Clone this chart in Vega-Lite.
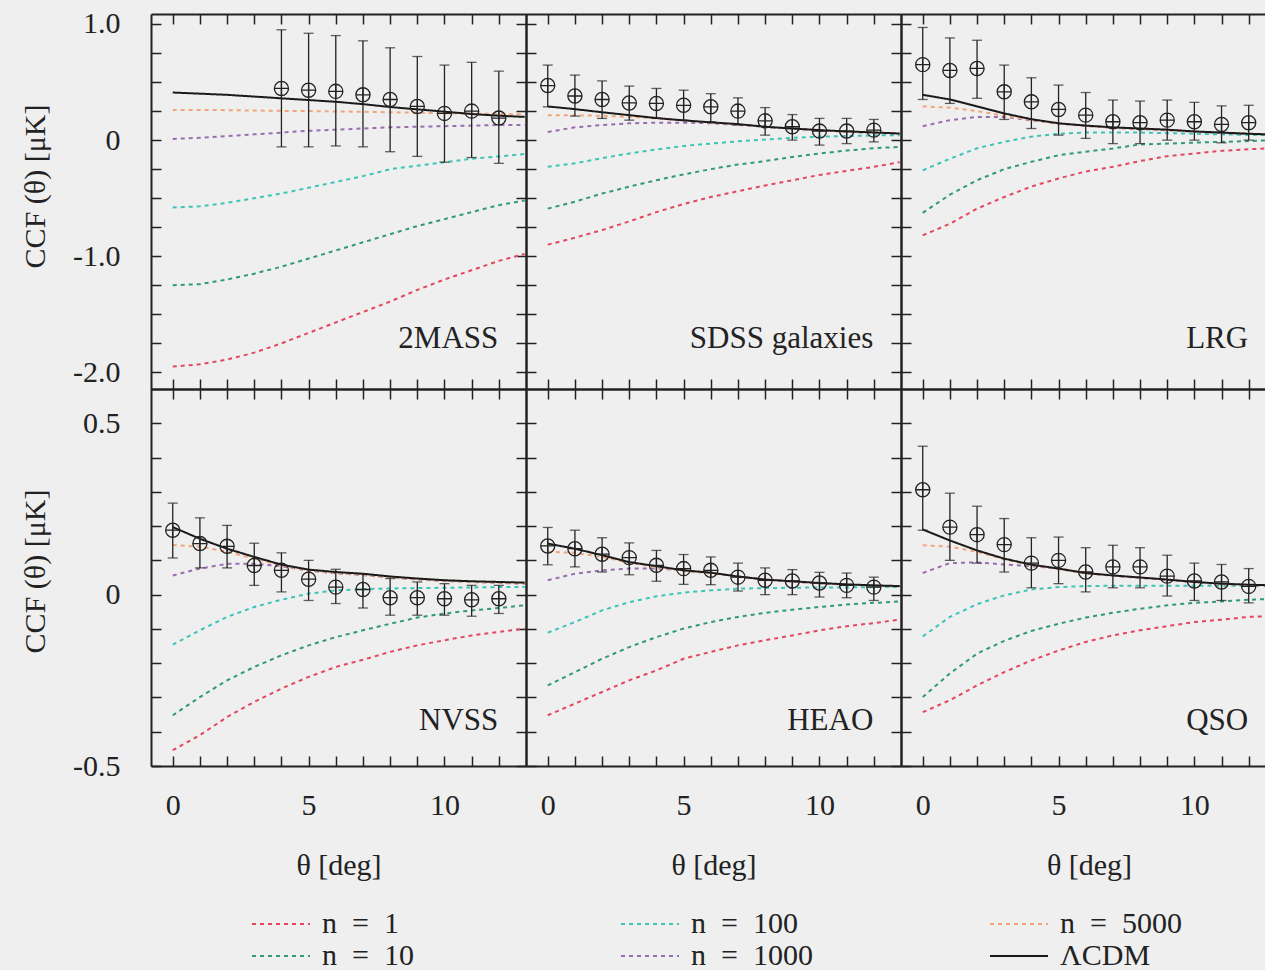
{
"$schema": "https://vega.github.io/schema/vega-lite/v6.json",
"background": "#efefef",
"padding": {"left": 20, "top": 8, "right": 0, "bottom": 0},
"datasets": {
"curves": [
{"p":"2MASS","t":0,"n1":-1.95,"n10":-1.25,"n100":-0.58,"n1000":0.01,"n5000":0.26,"L":0.41},
{"p":"2MASS","t":1,"n1":-1.93,"n10":-1.24,"n100":-0.57,"n1000":0.02,"n5000":0.26,"L":0.40},
{"p":"2MASS","t":2,"n1":-1.89,"n10":-1.20,"n100":-0.54,"n1000":0.035,"n5000":0.258,"L":0.39},
{"p":"2MASS","t":3,"n1":-1.83,"n10":-1.15,"n100":-0.50,"n1000":0.05,"n5000":0.255,"L":0.375},
{"p":"2MASS","t":4,"n1":-1.75,"n10":-1.09,"n100":-0.46,"n1000":0.065,"n5000":0.252,"L":0.36},
{"p":"2MASS","t":5,"n1":-1.66,"n10":-1.02,"n100":-0.41,"n1000":0.08,"n5000":0.25,"L":0.345},
{"p":"2MASS","t":6,"n1":-1.57,"n10":-0.95,"n100":-0.36,"n1000":0.09,"n5000":0.247,"L":0.33},
{"p":"2MASS","t":7,"n1":-1.48,"n10":-0.88,"n100":-0.31,"n1000":0.10,"n5000":0.244,"L":0.31},
{"p":"2MASS","t":8,"n1":-1.39,"n10":-0.81,"n100":-0.25,"n1000":0.11,"n5000":0.24,"L":0.285},
{"p":"2MASS","t":9,"n1":-1.29,"n10":-0.74,"n100":-0.22,"n1000":0.115,"n5000":0.236,"L":0.265},
{"p":"2MASS","t":10,"n1":-1.20,"n10":-0.68,"n100":-0.19,"n1000":0.12,"n5000":0.232,"L":0.245},
{"p":"2MASS","t":11,"n1":-1.12,"n10":-0.62,"n100":-0.16,"n1000":0.125,"n5000":0.228,"L":0.225},
{"p":"2MASS","t":12,"n1":-1.04,"n10":-0.56,"n100":-0.14,"n1000":0.13,"n5000":0.225,"L":0.21},
{"p":"2MASS","t":12.95,"n1":-0.98,"n10":-0.52,"n100":-0.12,"n1000":0.13,"n5000":0.222,"L":0.20},
{"p":"SDSS","t":0,"n1":-0.90,"n10":-0.59,"n100":-0.23,"n1000":0.07,"n5000":0.215,"L":0.29},
{"p":"SDSS","t":1,"n1":-0.84,"n10":-0.53,"n100":-0.20,"n1000":0.11,"n5000":0.213,"L":0.267},
{"p":"SDSS","t":2,"n1":-0.775,"n10":-0.46,"n100":-0.155,"n1000":0.13,"n5000":0.21,"L":0.24},
{"p":"SDSS","t":3,"n1":-0.70,"n10":-0.40,"n100":-0.115,"n1000":0.145,"n5000":0.20,"L":0.215},
{"p":"SDSS","t":4,"n1":-0.62,"n10":-0.345,"n100":-0.08,"n1000":0.15,"n5000":0.188,"L":0.19},
{"p":"SDSS","t":5,"n1":-0.55,"n10":-0.295,"n100":-0.05,"n1000":0.15,"n5000":0.168,"L":0.17},
{"p":"SDSS","t":6,"n1":-0.49,"n10":-0.25,"n100":-0.03,"n1000":0.145,"n5000":0.151,"L":0.153},
{"p":"SDSS","t":7,"n1":-0.44,"n10":-0.21,"n100":-0.01,"n1000":0.132,"n5000":0.134,"L":0.138},
{"p":"SDSS","t":8,"n1":-0.39,"n10":-0.18,"n100":0.005,"n1000":0.115,"n5000":0.114,"L":0.115},
{"p":"SDSS","t":9,"n1":-0.345,"n10":-0.145,"n100":0.02,"n1000":0.10,"n5000":0.099,"L":0.10},
{"p":"SDSS","t":10,"n1":-0.30,"n10":-0.115,"n100":0.03,"n1000":0.085,"n5000":0.084,"L":0.086},
{"p":"SDSS","t":11,"n1":-0.265,"n10":-0.09,"n100":0.035,"n1000":0.072,"n5000":0.073,"L":0.075},
{"p":"SDSS","t":12,"n1":-0.23,"n10":-0.07,"n100":0.04,"n1000":0.062,"n5000":0.064,"L":0.066},
{"p":"SDSS","t":12.95,"n1":-0.19,"n10":-0.058,"n100":0.043,"n1000":0.055,"n5000":0.055,"L":0.057},
{"p":"LRG","t":0,"n1":-0.82,"n10":-0.626,"n100":-0.26,"n1000":0.12,"n5000":0.29,"L":0.39},
{"p":"LRG","t":1,"n1":-0.72,"n10":-0.47,"n100":-0.16,"n1000":0.172,"n5000":0.28,"L":0.35},
{"p":"LRG","t":2,"n1":-0.59,"n10":-0.345,"n100":-0.07,"n1000":0.20,"n5000":0.25,"L":0.29},
{"p":"LRG","t":3,"n1":-0.49,"n10":-0.25,"n100":-0.015,"n1000":0.20,"n5000":0.21,"L":0.23},
{"p":"LRG","t":4,"n1":-0.40,"n10":-0.187,"n100":0.03,"n1000":0.17,"n5000":0.172,"L":0.18},
{"p":"LRG","t":5,"n1":-0.33,"n10":-0.13,"n100":0.055,"n1000":0.143,"n5000":0.142,"L":0.145},
{"p":"LRG","t":6,"n1":-0.27,"n10":-0.10,"n100":0.065,"n1000":0.123,"n5000":0.122,"L":0.125},
{"p":"LRG","t":7,"n1":-0.23,"n10":-0.072,"n100":0.065,"n1000":0.105,"n5000":0.107,"L":0.11},
{"p":"LRG","t":8,"n1":-0.18,"n10":-0.037,"n100":0.065,"n1000":0.095,"n5000":0.097,"L":0.10},
{"p":"LRG","t":9,"n1":-0.138,"n10":-0.03,"n100":0.06,"n1000":0.085,"n5000":0.087,"L":0.09},
{"p":"LRG","t":10,"n1":-0.115,"n10":-0.022,"n100":0.055,"n1000":0.072,"n5000":0.073,"L":0.075},
{"p":"LRG","t":11,"n1":-0.092,"n10":-0.015,"n100":0.05,"n1000":0.062,"n5000":0.063,"L":0.065},
{"p":"LRG","t":12,"n1":-0.078,"n10":-0.008,"n100":0.045,"n1000":0.053,"n5000":0.053,"L":0.055},
{"p":"LRG","t":12.95,"n1":-0.07,"n10":0.0,"n100":0.042,"n1000":0.046,"n5000":0.047,"L":0.048},
{"p":"NVSS","t":0,"n1":-0.454,"n10":-0.352,"n100":-0.146,"n1000":0.056,"n5000":0.145,"L":0.197},
{"p":"NVSS","t":1,"n1":-0.41,"n10":-0.299,"n100":-0.104,"n1000":0.076,"n5000":0.14,"L":0.163},
{"p":"NVSS","t":2,"n1":-0.357,"n10":-0.25,"n100":-0.065,"n1000":0.09,"n5000":0.125,"L":0.134},
{"p":"NVSS","t":3,"n1":-0.313,"n10":-0.211,"n100":-0.036,"n1000":0.09,"n5000":0.105,"L":0.11},
{"p":"NVSS","t":4,"n1":-0.274,"n10":-0.177,"n100":-0.015,"n1000":0.083,"n5000":0.085,"L":0.0875},
{"p":"NVSS","t":5,"n1":-0.24,"n10":-0.148,"n100":0.003,"n1000":0.07,"n5000":0.07,"L":0.073},
{"p":"NVSS","t":6,"n1":-0.211,"n10":-0.124,"n100":0.0125,"n1000":0.062,"n5000":0.063,"L":0.066},
{"p":"NVSS","t":7,"n1":-0.19,"n10":-0.104,"n100":0.016,"n1000":0.057,"n5000":0.058,"L":0.061},
{"p":"NVSS","t":8,"n1":-0.167,"n10":-0.085,"n100":0.018,"n1000":0.05,"n5000":0.05,"L":0.053},
{"p":"NVSS","t":9,"n1":-0.148,"n10":-0.067,"n100":0.019,"n1000":0.044,"n5000":0.045,"L":0.047},
{"p":"NVSS","t":10,"n1":-0.133,"n10":-0.055,"n100":0.02,"n1000":0.04,"n5000":0.04,"L":0.042},
{"p":"NVSS","t":11,"n1":-0.119,"n10":-0.046,"n100":0.021,"n1000":0.037,"n5000":0.037,"L":0.039},
{"p":"NVSS","t":12,"n1":-0.109,"n10":-0.039,"n100":0.022,"n1000":0.034,"n5000":0.035,"L":0.037},
{"p":"NVSS","t":12.95,"n1":-0.099,"n10":-0.031,"n100":0.022,"n1000":0.032,"n5000":0.033,"L":0.035},
{"p":"HEAO","t":0,"n1":-0.352,"n10":-0.265,"n100":-0.111,"n1000":0.042,"n5000":0.125,"L":0.149},
{"p":"HEAO","t":1,"n1":-0.318,"n10":-0.226,"n100":-0.08,"n1000":0.061,"n5000":0.122,"L":0.134},
{"p":"HEAO","t":2,"n1":-0.284,"n10":-0.187,"n100":-0.046,"n1000":0.071,"n5000":0.11,"L":0.115},
{"p":"HEAO","t":3,"n1":-0.25,"n10":-0.153,"n100":-0.022,"n1000":0.076,"n5000":0.093,"L":0.095},
{"p":"HEAO","t":4,"n1":-0.221,"n10":-0.124,"n100":-0.005,"n1000":0.076,"n5000":0.08,"L":0.083},
{"p":"HEAO","t":5,"n1":-0.187,"n10":-0.099,"n100":0.006,"n1000":0.071,"n5000":0.069,"L":0.071},
{"p":"HEAO","t":6,"n1":-0.167,"n10":-0.08,"n100":0.0125,"n1000":0.063,"n5000":0.062,"L":0.064},
{"p":"HEAO","t":7,"n1":-0.148,"n10":-0.065,"n100":0.0175,"n1000":0.053,"n5000":0.052,"L":0.053},
{"p":"HEAO","t":8,"n1":-0.133,"n10":-0.053,"n100":0.019,"n1000":0.044,"n5000":0.043,"L":0.044},
{"p":"HEAO","t":9,"n1":-0.119,"n10":-0.044,"n100":0.02,"n1000":0.038,"n5000":0.038,"L":0.039},
{"p":"HEAO","t":10,"n1":-0.104,"n10":-0.036,"n100":0.021,"n1000":0.033,"n5000":0.033,"L":0.034},
{"p":"HEAO","t":11,"n1":-0.092,"n10":-0.029,"n100":0.021,"n1000":0.029,"n5000":0.029,"L":0.03},
{"p":"HEAO","t":12,"n1":-0.083,"n10":-0.024,"n100":0.022,"n1000":0.026,"n5000":0.026,"L":0.027},
{"p":"HEAO","t":12.95,"n1":-0.073,"n10":-0.02,"n100":0.022,"n1000":0.024,"n5000":0.024,"L":0.025},
{"p":"QSO","t":0,"n1":-0.343,"n10":-0.299,"n100":-0.122,"n1000":0.063,"n5000":0.144,"L":0.19},
{"p":"QSO","t":1,"n1":-0.308,"n10":-0.23,"n100":-0.065,"n1000":0.092,"n5000":0.14,"L":0.158},
{"p":"QSO","t":2,"n1":-0.265,"n10":-0.172,"n100":-0.028,"n1000":0.094,"n5000":0.125,"L":0.129},
{"p":"QSO","t":3,"n1":-0.226,"n10":-0.135,"n100":-0.002,"n1000":0.088,"n5000":0.103,"L":0.105},
{"p":"QSO","t":4,"n1":-0.192,"n10":-0.106,"n100":0.015,"n1000":0.083,"n5000":0.086,"L":0.0875},
{"p":"QSO","t":5,"n1":-0.163,"n10":-0.085,"n100":0.022,"n1000":0.076,"n5000":0.074,"L":0.076},
{"p":"QSO","t":6,"n1":-0.138,"n10":-0.067,"n100":0.025,"n1000":0.063,"n5000":0.062,"L":0.063},
{"p":"QSO","t":7,"n1":-0.119,"n10":-0.053,"n100":0.026,"n1000":0.055,"n5000":0.055,"L":0.056},
{"p":"QSO","t":8,"n1":-0.104,"n10":-0.041,"n100":0.026,"n1000":0.049,"n5000":0.049,"L":0.05},
{"p":"QSO","t":9,"n1":-0.092,"n10":-0.031,"n100":0.026,"n1000":0.043,"n5000":0.043,"L":0.044},
{"p":"QSO","t":10,"n1":-0.08,"n10":-0.024,"n100":0.026,"n1000":0.036,"n5000":0.036,"L":0.037},
{"p":"QSO","t":11,"n1":-0.073,"n10":-0.02,"n100":0.026,"n1000":0.031,"n5000":0.031,"L":0.032},
{"p":"QSO","t":12,"n1":-0.065,"n10":-0.015,"n100":0.026,"n1000":0.028,"n5000":0.028,"L":0.029},
{"p":"QSO","t":12.95,"n1":-0.062,"n10":-0.012,"n100":0.026,"n1000":0.026,"n5000":0.026,"L":0.027}
],
"pts": [
{"p":"2MASS","t":4,"v":0.445,"lo":-0.058,"hi":0.95},
{"p":"2MASS","t":5,"v":0.43,"lo":-0.058,"hi":0.92},
{"p":"2MASS","t":6,"v":0.42,"lo":-0.05,"hi":0.90},
{"p":"2MASS","t":7,"v":0.39,"lo":-0.058,"hi":0.855},
{"p":"2MASS","t":8,"v":0.35,"lo":-0.10,"hi":0.795},
{"p":"2MASS","t":9,"v":0.29,"lo":-0.14,"hi":0.72},
{"p":"2MASS","t":10,"v":0.23,"lo":-0.19,"hi":0.646},
{"p":"2MASS","t":11,"v":0.25,"lo":-0.15,"hi":0.67},
{"p":"2MASS","t":12,"v":0.19,"lo":-0.20,"hi":0.594},
{"p":"SDSS","t":0,"v":0.47,"lo":0.287,"hi":0.646},
{"p":"SDSS","t":1,"v":0.38,"lo":0.207,"hi":0.56},
{"p":"SDSS","t":2,"v":0.35,"lo":0.187,"hi":0.51},
{"p":"SDSS","t":3,"v":0.32,"lo":0.172,"hi":0.465},
{"p":"SDSS","t":4,"v":0.316,"lo":0.187,"hi":0.445},
{"p":"SDSS","t":5,"v":0.30,"lo":0.172,"hi":0.43},
{"p":"SDSS","t":6,"v":0.287,"lo":0.158,"hi":0.40},
{"p":"SDSS","t":7,"v":0.25,"lo":0.13,"hi":0.364},
{"p":"SDSS","t":8,"v":0.166,"lo":0.043,"hi":0.28},
{"p":"SDSS","t":9,"v":0.115,"lo":0.0,"hi":0.22},
{"p":"SDSS","t":10,"v":0.078,"lo":-0.043,"hi":0.187},
{"p":"SDSS","t":11,"v":0.078,"lo":-0.03,"hi":0.187},
{"p":"SDSS","t":12,"v":0.086,"lo":-0.015,"hi":0.178},
{"p":"LRG","t":0,"v":0.65,"lo":0.35,"hi":0.97},
{"p":"LRG","t":1,"v":0.60,"lo":0.316,"hi":0.88},
{"p":"LRG","t":2,"v":0.617,"lo":0.36,"hi":0.86},
{"p":"LRG","t":3,"v":0.416,"lo":0.178,"hi":0.646},
{"p":"LRG","t":4,"v":0.33,"lo":0.10,"hi":0.537},
{"p":"LRG","t":5,"v":0.264,"lo":0.043,"hi":0.474},
{"p":"LRG","t":6,"v":0.215,"lo":0.015,"hi":0.41},
{"p":"LRG","t":7,"v":0.158,"lo":-0.03,"hi":0.345},
{"p":"LRG","t":8,"v":0.15,"lo":-0.03,"hi":0.336},
{"p":"LRG","t":9,"v":0.172,"lo":0.0,"hi":0.345},
{"p":"LRG","t":10,"v":0.158,"lo":0.0,"hi":0.325},
{"p":"LRG","t":11,"v":0.135,"lo":-0.023,"hi":0.295},
{"p":"LRG","t":12,"v":0.15,"lo":0.0,"hi":0.30},
{"p":"NVSS","t":0,"v":0.188,"lo":0.107,"hi":0.267},
{"p":"NVSS","t":1,"v":0.149,"lo":0.078,"hi":0.224},
{"p":"NVSS","t":2,"v":0.141,"lo":0.078,"hi":0.202},
{"p":"NVSS","t":3,"v":0.085,"lo":0.027,"hi":0.15},
{"p":"NVSS","t":4,"v":0.071,"lo":0.008,"hi":0.122},
{"p":"NVSS","t":5,"v":0.045,"lo":-0.017,"hi":0.10},
{"p":"NVSS","t":6,"v":0.022,"lo":-0.026,"hi":0.074},
{"p":"NVSS","t":7,"v":0.015,"lo":-0.039,"hi":0.061},
{"p":"NVSS","t":8,"v":-0.009,"lo":-0.06,"hi":0.047},
{"p":"NVSS","t":9,"v":-0.009,"lo":-0.06,"hi":0.037},
{"p":"NVSS","t":10,"v":-0.012,"lo":-0.06,"hi":0.032},
{"p":"NVSS","t":11,"v":-0.015,"lo":-0.063,"hi":0.027},
{"p":"NVSS","t":12,"v":-0.012,"lo":-0.055,"hi":0.027},
{"p":"HEAO","t":0,"v":0.142,"lo":0.087,"hi":0.196},
{"p":"HEAO","t":1,"v":0.134,"lo":0.081,"hi":0.188},
{"p":"HEAO","t":2,"v":0.118,"lo":0.066,"hi":0.166},
{"p":"HEAO","t":3,"v":0.108,"lo":0.058,"hi":0.151},
{"p":"HEAO","t":4,"v":0.0855,"lo":0.039,"hi":0.129},
{"p":"HEAO","t":5,"v":0.076,"lo":0.03,"hi":0.117},
{"p":"HEAO","t":6,"v":0.071,"lo":0.029,"hi":0.11},
{"p":"HEAO","t":7,"v":0.051,"lo":0.0105,"hi":0.092},
{"p":"HEAO","t":8,"v":0.042,"lo":0.0,"hi":0.078},
{"p":"HEAO","t":9,"v":0.04,"lo":0.0,"hi":0.073},
{"p":"HEAO","t":10,"v":0.034,"lo":-0.007,"hi":0.065},
{"p":"HEAO","t":11,"v":0.027,"lo":-0.009,"hi":0.063},
{"p":"HEAO","t":12,"v":0.022,"lo":-0.017,"hi":0.051},
{"p":"QSO","t":0,"v":0.306,"lo":0.188,"hi":0.433},
{"p":"QSO","t":1,"v":0.197,"lo":0.10,"hi":0.296},
{"p":"QSO","t":2,"v":0.175,"lo":0.092,"hi":0.258},
{"p":"QSO","t":3,"v":0.146,"lo":0.066,"hi":0.222},
{"p":"QSO","t":4,"v":0.092,"lo":0.02,"hi":0.166},
{"p":"QSO","t":5,"v":0.10,"lo":0.032,"hi":0.168},
{"p":"QSO","t":6,"v":0.066,"lo":0.008,"hi":0.137},
{"p":"QSO","t":7,"v":0.081,"lo":0.02,"hi":0.144},
{"p":"QSO","t":8,"v":0.081,"lo":0.02,"hi":0.137},
{"p":"QSO","t":9,"v":0.054,"lo":-0.004,"hi":0.115},
{"p":"QSO","t":10,"v":0.04,"lo":-0.017,"hi":0.092},
{"p":"QSO","t":11,"v":0.037,"lo":-0.017,"hi":0.088},
{"p":"QSO","t":12,"v":0.024,"lo":-0.024,"hi":0.076}
]
},
"spacing": 0,
"bounds": "flush",
"columns": 3,
"concat": [
{"width": 375, "height": 375, "resolve": {"axis": {"x": "independent", "y": "independent"}},
 "layer": [
  {"data": {"name": "curves"}, "transform": [{"filter": "datum.p == '2MASS'"}, {"fold": ["n1","n10","n100","n1000","n5000","L"], "as": ["s","v"]}],
   "mark": {"type": "line", "strokeWidth": 2, "clip": true},
   "encoding": {
    "x": {"field": "t", "type": "quantitative", "scale": {"domain": [-0.8, 13], "nice": false, "zero": false}, "axis": {"orient": "bottom", "values": [0,1,2,3,4,5,6,7,8,9,10,11,12], "labels": false, "title": null}},
    "y": {"field": "v", "type": "quantitative", "scale": {"domain": [-2.143, 1.086], "nice": false, "zero": false}, "axis": {"orient": "left", "values": [-2,-1.75,-1.5,-1.25,-1,-0.75,-0.5,-0.25,0,0.25,0.5,0.75,1], "labelExpr": "datum.value == 1 ? '1.0' : datum.value == 0 ? '0' : datum.value == -1 ? '-1.0' : datum.value == -2 ? '-2.0' : ''", "labelPadding": 41, "title": "CCF (θ) [μK]", "titlePadding": 22, "titleY": 172}},
    "color": {"field": "s", "type": "nominal", "scale": {"domain": ["n1","n10","n100","n1000","n5000","L"], "range": ["#e3475f","#2f9b6e","#3cc4b8","#9a6cb0","#f2a57a","#1a1a1a"]}, "legend": {"title": null, "labelExpr": "datum.value == 'L' ? 'ΛCDM' : 'n\u2002=\u2002' + substring(datum.value, 1)"}},
    "strokeDash": {"field": "s", "type": "nominal", "scale": {"domain": ["n1","n10","n100","n1000","n5000","L"], "range": [[4,4],[4,4],[4,4],[4,4],[4,4],[1,0]]}, "legend": {"title": null, "labelExpr": "datum.value == 'L' ? 'ΛCDM' : 'n\u2002=\u2002' + substring(datum.value, 1)"}}
   }},
  {"data": {"name": "pts"}, "transform": [{"filter": "datum.p == '2MASS'"}],
   "mark": {"type": "rule", "color": "#222", "strokeWidth": 1.3},
   "encoding": {
    "x": {"field": "t", "type": "quantitative", "scale": {"domain": [-0.8, 13], "nice": false, "zero": false}, "axis": {"orient": "top", "values": [0,1,2,3,4,5,6,7,8,9,10,11,12], "labels": false, "title": null}},
    "y": {"field": "lo", "type": "quantitative", "scale": {"domain": [-2.143, 1.086], "nice": false, "zero": false}, "axis": {"orient": "right", "values": [-2,-1.75,-1.5,-1.25,-1,-0.75,-0.5,-0.25,0,0.25,0.5,0.75,1], "labels": false, "title": null}},
    "y2": {"field": "hi"}
   }},
  {"data": {"name": "pts"}, "transform": [{"filter": "datum.p == '2MASS'"}],
   "mark": {"type": "tick", "orient": "horizontal", "size": 10, "thickness": 1.3, "color": "#222"},
   "encoding": {"x": {"field": "t", "type": "quantitative", "scale": {"domain": [-0.8, 13], "nice": false, "zero": false}, "axis": null}, "y": {"field": "lo", "type": "quantitative", "scale": {"domain": [-2.143, 1.086], "nice": false, "zero": false}, "axis": null}}},
  {"data": {"name": "pts"}, "transform": [{"filter": "datum.p == '2MASS'"}],
   "mark": {"type": "tick", "orient": "horizontal", "size": 10, "thickness": 1.3, "color": "#222"},
   "encoding": {"x": {"field": "t", "type": "quantitative", "scale": {"domain": [-0.8, 13], "nice": false, "zero": false}, "axis": null}, "y": {"field": "hi", "type": "quantitative", "scale": {"domain": [-2.143, 1.086], "nice": false, "zero": false}, "axis": null}}},
  {"data": {"name": "pts"}, "transform": [{"filter": "datum.p == '2MASS'"}],
   "mark": {"type": "point", "shape": "M-1,0A1,1,0,1,1,1,0A1,1,0,1,1,-1,0M-1,0L1,0M0,-1L0,1", "size": 200, "filled": false, "stroke": "#222", "strokeWidth": 1.3, "opacity": 1},
   "encoding": {"x": {"field": "t", "type": "quantitative", "scale": {"domain": [-0.8, 13], "nice": false, "zero": false}, "axis": null}, "y": {"field": "v", "type": "quantitative", "scale": {"domain": [-2.143, 1.086], "nice": false, "zero": false}, "axis": null}}},
  {"data": {"values": [{}]},
   "mark": {"type": "text", "text": "2MASS", "align": "right", "baseline": "alphabetic", "fontSize": 31, "font": "Liberation Serif", "color": "#222"},
   "encoding": {"x": {"datum": 11.98, "type": "quantitative", "scale": {"domain": [-0.8, 13], "nice": false, "zero": false}, "axis": null}, "y": {"datum": -1.79, "type": "quantitative", "scale": {"domain": [-2.143, 1.086], "nice": false, "zero": false}, "axis": null}}}
 ]},
{"width": 375, "height": 375, "resolve": {"axis": {"x": "independent", "y": "independent"}},
 "layer": [
  {"data": {"name": "curves"}, "transform": [{"filter": "datum.p == 'SDSS'"}, {"fold": ["n1","n10","n100","n1000","n5000","L"], "as": ["s","v"]}],
   "mark": {"type": "line", "strokeWidth": 2, "clip": true},
   "encoding": {
    "x": {"field": "t", "type": "quantitative", "scale": {"domain": [-0.8, 13], "nice": false, "zero": false}, "axis": {"orient": "bottom", "values": [0,1,2,3,4,5,6,7,8,9,10,11,12], "labels": false, "title": null}},
    "y": {"field": "v", "type": "quantitative", "scale": {"domain": [-2.143, 1.086], "nice": false, "zero": false}, "axis": {"orient": "left", "values": [-2,-1.75,-1.5,-1.25,-1,-0.75,-0.5,-0.25,0,0.25,0.5,0.75,1], "labels": false, "title": null}},
    "color": {"field": "s", "type": "nominal", "scale": {"domain": ["n1","n10","n100","n1000","n5000","L"], "range": ["#e3475f","#2f9b6e","#3cc4b8","#9a6cb0","#f2a57a","#1a1a1a"]}, "legend": {"title": null, "labelExpr": "datum.value == 'L' ? 'ΛCDM' : 'n\u2002=\u2002' + substring(datum.value, 1)"}},
    "strokeDash": {"field": "s", "type": "nominal", "scale": {"domain": ["n1","n10","n100","n1000","n5000","L"], "range": [[4,4],[4,4],[4,4],[4,4],[4,4],[1,0]]}, "legend": {"title": null, "labelExpr": "datum.value == 'L' ? 'ΛCDM' : 'n\u2002=\u2002' + substring(datum.value, 1)"}}
   }},
  {"data": {"name": "pts"}, "transform": [{"filter": "datum.p == 'SDSS'"}],
   "mark": {"type": "rule", "color": "#222", "strokeWidth": 1.3},
   "encoding": {
    "x": {"field": "t", "type": "quantitative", "scale": {"domain": [-0.8, 13], "nice": false, "zero": false}, "axis": {"orient": "top", "values": [0,1,2,3,4,5,6,7,8,9,10,11,12], "labels": false, "title": null}},
    "y": {"field": "lo", "type": "quantitative", "scale": {"domain": [-2.143, 1.086], "nice": false, "zero": false}, "axis": {"orient": "right", "values": [-2,-1.75,-1.5,-1.25,-1,-0.75,-0.5,-0.25,0,0.25,0.5,0.75,1], "labels": false, "title": null}},
    "y2": {"field": "hi"}
   }},
  {"data": {"name": "pts"}, "transform": [{"filter": "datum.p == 'SDSS'"}],
   "mark": {"type": "tick", "orient": "horizontal", "size": 10, "thickness": 1.3, "color": "#222"},
   "encoding": {"x": {"field": "t", "type": "quantitative", "scale": {"domain": [-0.8, 13], "nice": false, "zero": false}, "axis": null}, "y": {"field": "lo", "type": "quantitative", "scale": {"domain": [-2.143, 1.086], "nice": false, "zero": false}, "axis": null}}},
  {"data": {"name": "pts"}, "transform": [{"filter": "datum.p == 'SDSS'"}],
   "mark": {"type": "tick", "orient": "horizontal", "size": 10, "thickness": 1.3, "color": "#222"},
   "encoding": {"x": {"field": "t", "type": "quantitative", "scale": {"domain": [-0.8, 13], "nice": false, "zero": false}, "axis": null}, "y": {"field": "hi", "type": "quantitative", "scale": {"domain": [-2.143, 1.086], "nice": false, "zero": false}, "axis": null}}},
  {"data": {"name": "pts"}, "transform": [{"filter": "datum.p == 'SDSS'"}],
   "mark": {"type": "point", "shape": "M-1,0A1,1,0,1,1,1,0A1,1,0,1,1,-1,0M-1,0L1,0M0,-1L0,1", "size": 200, "filled": false, "stroke": "#222", "strokeWidth": 1.3, "opacity": 1},
   "encoding": {"x": {"field": "t", "type": "quantitative", "scale": {"domain": [-0.8, 13], "nice": false, "zero": false}, "axis": null}, "y": {"field": "v", "type": "quantitative", "scale": {"domain": [-2.143, 1.086], "nice": false, "zero": false}, "axis": null}}},
  {"data": {"values": [{}]},
   "mark": {"type": "text", "text": "SDSS galaxies", "align": "right", "baseline": "alphabetic", "fontSize": 31, "font": "Liberation Serif", "color": "#222"},
   "encoding": {"x": {"datum": 11.98, "type": "quantitative", "scale": {"domain": [-0.8, 13], "nice": false, "zero": false}, "axis": null}, "y": {"datum": -1.79, "type": "quantitative", "scale": {"domain": [-2.143, 1.086], "nice": false, "zero": false}, "axis": null}}}
 ]},
{"width": 364, "height": 375, "resolve": {"axis": {"x": "independent", "y": "independent"}},
 "layer": [
  {"data": {"name": "curves"}, "transform": [{"filter": "datum.p == 'LRG'"}, {"fold": ["n1","n10","n100","n1000","n5000","L"], "as": ["s","v"]}],
   "mark": {"type": "line", "strokeWidth": 2, "clip": true},
   "encoding": {
    "x": {"field": "t", "type": "quantitative", "scale": {"domain": [-0.8, 12.6], "nice": false, "zero": false}, "axis": {"orient": "bottom", "values": [0,1,2,3,4,5,6,7,8,9,10,11,12], "labels": false, "title": null}},
    "y": {"field": "v", "type": "quantitative", "scale": {"domain": [-2.143, 1.086], "nice": false, "zero": false}, "axis": {"orient": "left", "values": [-2,-1.75,-1.5,-1.25,-1,-0.75,-0.5,-0.25,0,0.25,0.5,0.75,1], "labels": false, "title": null}},
    "color": {"field": "s", "type": "nominal", "scale": {"domain": ["n1","n10","n100","n1000","n5000","L"], "range": ["#e3475f","#2f9b6e","#3cc4b8","#9a6cb0","#f2a57a","#1a1a1a"]}, "legend": {"title": null, "labelExpr": "datum.value == 'L' ? 'ΛCDM' : 'n\u2002=\u2002' + substring(datum.value, 1)"}},
    "strokeDash": {"field": "s", "type": "nominal", "scale": {"domain": ["n1","n10","n100","n1000","n5000","L"], "range": [[4,4],[4,4],[4,4],[4,4],[4,4],[1,0]]}, "legend": {"title": null, "labelExpr": "datum.value == 'L' ? 'ΛCDM' : 'n\u2002=\u2002' + substring(datum.value, 1)"}}
   }},
  {"data": {"name": "pts"}, "transform": [{"filter": "datum.p == 'LRG'"}],
   "mark": {"type": "rule", "color": "#222", "strokeWidth": 1.3},
   "encoding": {
    "x": {"field": "t", "type": "quantitative", "scale": {"domain": [-0.8, 12.6], "nice": false, "zero": false}, "axis": {"orient": "top", "values": [0,1,2,3,4,5,6,7,8,9,10,11,12], "labels": false, "title": null}},
    "y": {"field": "lo", "type": "quantitative", "scale": {"domain": [-2.143, 1.086], "nice": false, "zero": false}, "axis": null},
    "y2": {"field": "hi"}
   }},
  {"data": {"name": "pts"}, "transform": [{"filter": "datum.p == 'LRG'"}],
   "mark": {"type": "tick", "orient": "horizontal", "size": 10, "thickness": 1.3, "color": "#222"},
   "encoding": {"x": {"field": "t", "type": "quantitative", "scale": {"domain": [-0.8, 12.6], "nice": false, "zero": false}, "axis": null}, "y": {"field": "lo", "type": "quantitative", "scale": {"domain": [-2.143, 1.086], "nice": false, "zero": false}, "axis": null}}},
  {"data": {"name": "pts"}, "transform": [{"filter": "datum.p == 'LRG'"}],
   "mark": {"type": "tick", "orient": "horizontal", "size": 10, "thickness": 1.3, "color": "#222"},
   "encoding": {"x": {"field": "t", "type": "quantitative", "scale": {"domain": [-0.8, 12.6], "nice": false, "zero": false}, "axis": null}, "y": {"field": "hi", "type": "quantitative", "scale": {"domain": [-2.143, 1.086], "nice": false, "zero": false}, "axis": null}}},
  {"data": {"name": "pts"}, "transform": [{"filter": "datum.p == 'LRG'"}],
   "mark": {"type": "point", "shape": "M-1,0A1,1,0,1,1,1,0A1,1,0,1,1,-1,0M-1,0L1,0M0,-1L0,1", "size": 200, "filled": false, "stroke": "#222", "strokeWidth": 1.3, "opacity": 1},
   "encoding": {"x": {"field": "t", "type": "quantitative", "scale": {"domain": [-0.8, 12.6], "nice": false, "zero": false}, "axis": null}, "y": {"field": "v", "type": "quantitative", "scale": {"domain": [-2.143, 1.086], "nice": false, "zero": false}, "axis": null}}},
  {"data": {"values": [{}]},
   "mark": {"type": "text", "text": "LRG", "align": "right", "baseline": "alphabetic", "fontSize": 31, "font": "Liberation Serif", "color": "#222"},
   "encoding": {"x": {"datum": 11.98, "type": "quantitative", "scale": {"domain": [-0.8, 12.6], "nice": false, "zero": false}, "axis": null}, "y": {"datum": -1.79, "type": "quantitative", "scale": {"domain": [-2.143, 1.086], "nice": false, "zero": false}, "axis": null}}}
 ]},
{"width": 375, "height": 377, "resolve": {"axis": {"x": "independent", "y": "independent"}},
 "layer": [
  {"data": {"name": "curves"}, "transform": [{"filter": "datum.p == 'NVSS'"}, {"fold": ["n1","n10","n100","n1000","n5000","L"], "as": ["s","v"]}],
   "mark": {"type": "line", "strokeWidth": 2, "clip": true},
   "encoding": {
    "x": {"field": "t", "type": "quantitative", "scale": {"domain": [-0.8, 13], "nice": false, "zero": false}, "axis": {"orient": "bottom", "values": [0,1,2,3,4,5,6,7,8,9,10,11,12], "labelExpr": "datum.value % 5 == 0 ? datum.label : ''", "labelPadding": 34, "title": "θ [deg]", "titlePadding": 30}},
    "y": {"field": "v", "type": "quantitative", "scale": {"domain": [-0.5, 0.6], "nice": false, "zero": false}, "axis": {"orient": "left", "values": [-0.5,-0.4,-0.3,-0.2,-0.1,0,0.1,0.2,0.3,0.4,0.5], "labelExpr": "datum.value == 0.5 ? '0.5' : datum.value == 0 ? '0' : datum.value == -0.5 ? '-0.5' : ''", "labelPadding": 41, "title": "CCF (θ) [μK]", "titlePadding": 22, "titleY": 182}},
    "color": {"field": "s", "type": "nominal", "scale": {"domain": ["n1","n10","n100","n1000","n5000","L"], "range": ["#e3475f","#2f9b6e","#3cc4b8","#9a6cb0","#f2a57a","#1a1a1a"]}, "legend": {"title": null, "labelExpr": "datum.value == 'L' ? 'ΛCDM' : 'n\u2002=\u2002' + substring(datum.value, 1)"}},
    "strokeDash": {"field": "s", "type": "nominal", "scale": {"domain": ["n1","n10","n100","n1000","n5000","L"], "range": [[4,4],[4,4],[4,4],[4,4],[4,4],[1,0]]}, "legend": {"title": null, "labelExpr": "datum.value == 'L' ? 'ΛCDM' : 'n\u2002=\u2002' + substring(datum.value, 1)"}}
   }},
  {"data": {"name": "pts"}, "transform": [{"filter": "datum.p == 'NVSS'"}],
   "mark": {"type": "rule", "color": "#222", "strokeWidth": 1.3},
   "encoding": {
    "x": {"field": "t", "type": "quantitative", "scale": {"domain": [-0.8, 13], "nice": false, "zero": false}, "axis": {"orient": "top", "values": [0,1,2,3,4,5,6,7,8,9,10,11,12], "labels": false, "title": null}},
    "y": {"field": "lo", "type": "quantitative", "scale": {"domain": [-0.5, 0.6], "nice": false, "zero": false}, "axis": {"orient": "right", "values": [-0.5,-0.4,-0.3,-0.2,-0.1,0,0.1,0.2,0.3,0.4,0.5], "labels": false, "title": null}},
    "y2": {"field": "hi"}
   }},
  {"data": {"name": "pts"}, "transform": [{"filter": "datum.p == 'NVSS'"}],
   "mark": {"type": "tick", "orient": "horizontal", "size": 10, "thickness": 1.3, "color": "#222"},
   "encoding": {"x": {"field": "t", "type": "quantitative", "scale": {"domain": [-0.8, 13], "nice": false, "zero": false}, "axis": null}, "y": {"field": "lo", "type": "quantitative", "scale": {"domain": [-0.5, 0.6], "nice": false, "zero": false}, "axis": null}}},
  {"data": {"name": "pts"}, "transform": [{"filter": "datum.p == 'NVSS'"}],
   "mark": {"type": "tick", "orient": "horizontal", "size": 10, "thickness": 1.3, "color": "#222"},
   "encoding": {"x": {"field": "t", "type": "quantitative", "scale": {"domain": [-0.8, 13], "nice": false, "zero": false}, "axis": null}, "y": {"field": "hi", "type": "quantitative", "scale": {"domain": [-0.5, 0.6], "nice": false, "zero": false}, "axis": null}}},
  {"data": {"name": "pts"}, "transform": [{"filter": "datum.p == 'NVSS'"}],
   "mark": {"type": "point", "shape": "M-1,0A1,1,0,1,1,1,0A1,1,0,1,1,-1,0M-1,0L1,0M0,-1L0,1", "size": 200, "filled": false, "stroke": "#222", "strokeWidth": 1.3, "opacity": 1},
   "encoding": {"x": {"field": "t", "type": "quantitative", "scale": {"domain": [-0.8, 13], "nice": false, "zero": false}, "axis": null}, "y": {"field": "v", "type": "quantitative", "scale": {"domain": [-0.5, 0.6], "nice": false, "zero": false}, "axis": null}}},
  {"data": {"values": [{}]},
   "mark": {"type": "text", "text": "NVSS", "align": "right", "baseline": "alphabetic", "fontSize": 31, "font": "Liberation Serif", "color": "#222"},
   "encoding": {"x": {"datum": 11.98, "type": "quantitative", "scale": {"domain": [-0.8, 13], "nice": false, "zero": false}, "axis": null}, "y": {"datum": -0.396, "type": "quantitative", "scale": {"domain": [-0.5, 0.6], "nice": false, "zero": false}, "axis": null}}}
 ]},
{"width": 375, "height": 377, "resolve": {"axis": {"x": "independent", "y": "independent"}},
 "layer": [
  {"data": {"name": "curves"}, "transform": [{"filter": "datum.p == 'HEAO'"}, {"fold": ["n1","n10","n100","n1000","n5000","L"], "as": ["s","v"]}],
   "mark": {"type": "line", "strokeWidth": 2, "clip": true},
   "encoding": {
    "x": {"field": "t", "type": "quantitative", "scale": {"domain": [-0.8, 13], "nice": false, "zero": false}, "axis": {"orient": "bottom", "values": [0,1,2,3,4,5,6,7,8,9,10,11,12], "labelExpr": "datum.value % 5 == 0 ? datum.label : ''", "labelPadding": 34, "title": "θ [deg]", "titlePadding": 30}},
    "y": {"field": "v", "type": "quantitative", "scale": {"domain": [-0.5, 0.6], "nice": false, "zero": false}, "axis": {"orient": "left", "values": [-0.5,-0.4,-0.3,-0.2,-0.1,0,0.1,0.2,0.3,0.4,0.5], "labels": false, "title": null}},
    "color": {"field": "s", "type": "nominal", "scale": {"domain": ["n1","n10","n100","n1000","n5000","L"], "range": ["#e3475f","#2f9b6e","#3cc4b8","#9a6cb0","#f2a57a","#1a1a1a"]}, "legend": {"title": null, "labelExpr": "datum.value == 'L' ? 'ΛCDM' : 'n\u2002=\u2002' + substring(datum.value, 1)"}},
    "strokeDash": {"field": "s", "type": "nominal", "scale": {"domain": ["n1","n10","n100","n1000","n5000","L"], "range": [[4,4],[4,4],[4,4],[4,4],[4,4],[1,0]]}, "legend": {"title": null, "labelExpr": "datum.value == 'L' ? 'ΛCDM' : 'n\u2002=\u2002' + substring(datum.value, 1)"}}
   }},
  {"data": {"name": "pts"}, "transform": [{"filter": "datum.p == 'HEAO'"}],
   "mark": {"type": "rule", "color": "#222", "strokeWidth": 1.3},
   "encoding": {
    "x": {"field": "t", "type": "quantitative", "scale": {"domain": [-0.8, 13], "nice": false, "zero": false}, "axis": {"orient": "top", "values": [0,1,2,3,4,5,6,7,8,9,10,11,12], "labels": false, "title": null}},
    "y": {"field": "lo", "type": "quantitative", "scale": {"domain": [-0.5, 0.6], "nice": false, "zero": false}, "axis": {"orient": "right", "values": [-0.5,-0.4,-0.3,-0.2,-0.1,0,0.1,0.2,0.3,0.4,0.5], "labels": false, "title": null}},
    "y2": {"field": "hi"}
   }},
  {"data": {"name": "pts"}, "transform": [{"filter": "datum.p == 'HEAO'"}],
   "mark": {"type": "tick", "orient": "horizontal", "size": 10, "thickness": 1.3, "color": "#222"},
   "encoding": {"x": {"field": "t", "type": "quantitative", "scale": {"domain": [-0.8, 13], "nice": false, "zero": false}, "axis": null}, "y": {"field": "lo", "type": "quantitative", "scale": {"domain": [-0.5, 0.6], "nice": false, "zero": false}, "axis": null}}},
  {"data": {"name": "pts"}, "transform": [{"filter": "datum.p == 'HEAO'"}],
   "mark": {"type": "tick", "orient": "horizontal", "size": 10, "thickness": 1.3, "color": "#222"},
   "encoding": {"x": {"field": "t", "type": "quantitative", "scale": {"domain": [-0.8, 13], "nice": false, "zero": false}, "axis": null}, "y": {"field": "hi", "type": "quantitative", "scale": {"domain": [-0.5, 0.6], "nice": false, "zero": false}, "axis": null}}},
  {"data": {"name": "pts"}, "transform": [{"filter": "datum.p == 'HEAO'"}],
   "mark": {"type": "point", "shape": "M-1,0A1,1,0,1,1,1,0A1,1,0,1,1,-1,0M-1,0L1,0M0,-1L0,1", "size": 200, "filled": false, "stroke": "#222", "strokeWidth": 1.3, "opacity": 1},
   "encoding": {"x": {"field": "t", "type": "quantitative", "scale": {"domain": [-0.8, 13], "nice": false, "zero": false}, "axis": null}, "y": {"field": "v", "type": "quantitative", "scale": {"domain": [-0.5, 0.6], "nice": false, "zero": false}, "axis": null}}},
  {"data": {"values": [{}]},
   "mark": {"type": "text", "text": "HEAO", "align": "right", "baseline": "alphabetic", "fontSize": 31, "font": "Liberation Serif", "color": "#222"},
   "encoding": {"x": {"datum": 11.98, "type": "quantitative", "scale": {"domain": [-0.8, 13], "nice": false, "zero": false}, "axis": null}, "y": {"datum": -0.396, "type": "quantitative", "scale": {"domain": [-0.5, 0.6], "nice": false, "zero": false}, "axis": null}}}
 ]},
{"width": 364, "height": 377, "resolve": {"axis": {"x": "independent", "y": "independent"}},
 "layer": [
  {"data": {"name": "curves"}, "transform": [{"filter": "datum.p == 'QSO'"}, {"fold": ["n1","n10","n100","n1000","n5000","L"], "as": ["s","v"]}],
   "mark": {"type": "line", "strokeWidth": 2, "clip": true},
   "encoding": {
    "x": {"field": "t", "type": "quantitative", "scale": {"domain": [-0.8, 12.6], "nice": false, "zero": false}, "axis": {"orient": "bottom", "values": [0,1,2,3,4,5,6,7,8,9,10,11,12], "labelExpr": "datum.value % 5 == 0 ? datum.label : ''", "labelPadding": 34, "title": "θ [deg]", "titlePadding": 30, "titleX": 188}},
    "y": {"field": "v", "type": "quantitative", "scale": {"domain": [-0.5, 0.6], "nice": false, "zero": false}, "axis": {"orient": "left", "values": [-0.5,-0.4,-0.3,-0.2,-0.1,0,0.1,0.2,0.3,0.4,0.5], "labels": false, "title": null}},
    "color": {"field": "s", "type": "nominal", "scale": {"domain": ["n1","n10","n100","n1000","n5000","L"], "range": ["#e3475f","#2f9b6e","#3cc4b8","#9a6cb0","#f2a57a","#1a1a1a"]}, "legend": {"title": null, "labelExpr": "datum.value == 'L' ? 'ΛCDM' : 'n\u2002=\u2002' + substring(datum.value, 1)"}},
    "strokeDash": {"field": "s", "type": "nominal", "scale": {"domain": ["n1","n10","n100","n1000","n5000","L"], "range": [[4,4],[4,4],[4,4],[4,4],[4,4],[1,0]]}, "legend": {"title": null, "labelExpr": "datum.value == 'L' ? 'ΛCDM' : 'n\u2002=\u2002' + substring(datum.value, 1)"}}
   }},
  {"data": {"name": "pts"}, "transform": [{"filter": "datum.p == 'QSO'"}],
   "mark": {"type": "rule", "color": "#222", "strokeWidth": 1.3},
   "encoding": {
    "x": {"field": "t", "type": "quantitative", "scale": {"domain": [-0.8, 12.6], "nice": false, "zero": false}, "axis": {"orient": "top", "values": [0,1,2,3,4,5,6,7,8,9,10,11,12], "labels": false, "title": null}},
    "y": {"field": "lo", "type": "quantitative", "scale": {"domain": [-0.5, 0.6], "nice": false, "zero": false}, "axis": null},
    "y2": {"field": "hi"}
   }},
  {"data": {"name": "pts"}, "transform": [{"filter": "datum.p == 'QSO'"}],
   "mark": {"type": "tick", "orient": "horizontal", "size": 10, "thickness": 1.3, "color": "#222"},
   "encoding": {"x": {"field": "t", "type": "quantitative", "scale": {"domain": [-0.8, 12.6], "nice": false, "zero": false}, "axis": null}, "y": {"field": "lo", "type": "quantitative", "scale": {"domain": [-0.5, 0.6], "nice": false, "zero": false}, "axis": null}}},
  {"data": {"name": "pts"}, "transform": [{"filter": "datum.p == 'QSO'"}],
   "mark": {"type": "tick", "orient": "horizontal", "size": 10, "thickness": 1.3, "color": "#222"},
   "encoding": {"x": {"field": "t", "type": "quantitative", "scale": {"domain": [-0.8, 12.6], "nice": false, "zero": false}, "axis": null}, "y": {"field": "hi", "type": "quantitative", "scale": {"domain": [-0.5, 0.6], "nice": false, "zero": false}, "axis": null}}},
  {"data": {"name": "pts"}, "transform": [{"filter": "datum.p == 'QSO'"}],
   "mark": {"type": "point", "shape": "M-1,0A1,1,0,1,1,1,0A1,1,0,1,1,-1,0M-1,0L1,0M0,-1L0,1", "size": 200, "filled": false, "stroke": "#222", "strokeWidth": 1.3, "opacity": 1},
   "encoding": {"x": {"field": "t", "type": "quantitative", "scale": {"domain": [-0.8, 12.6], "nice": false, "zero": false}, "axis": null}, "y": {"field": "v", "type": "quantitative", "scale": {"domain": [-0.5, 0.6], "nice": false, "zero": false}, "axis": null}}},
  {"data": {"values": [{}]},
   "mark": {"type": "text", "text": "QSO", "align": "right", "baseline": "alphabetic", "fontSize": 31, "font": "Liberation Serif", "color": "#222"},
   "encoding": {"x": {"datum": 11.98, "type": "quantitative", "scale": {"domain": [-0.8, 12.6], "nice": false, "zero": false}, "axis": null}, "y": {"datum": -0.396, "type": "quantitative", "scale": {"domain": [-0.5, 0.6], "nice": false, "zero": false}, "axis": null}}}
 ]}
],
"config": {
 "font": "Liberation Serif",
 "view": {"stroke": null},
 "axis": {"domainColor": "#222", "domainWidth": 2, "tickColor": "#222", "tickWidth": 1.5, "tickSize": -10, "grid": false, "labelFont": "Liberation Serif", "labelFontSize": 30, "labelColor": "#222", "titleFont": "Liberation Serif", "titleFontSize": 30, "titleFontWeight": "normal", "titleColor": "#222", "labelFlush": false, "labelOverlap": false},
 "legend": {"orient": "none", "legendX": 96, "legendY": 895, "columns": 3, "columnPadding": 172, "rowPadding": 2, "symbolType": "M-1,0L4.8,0", "symbolSize": 400, "symbolStrokeWidth": 2, "symbolFillColor": "transparent", "labelFont": "Liberation Serif", "labelFontSize": 30, "labelColor": "#222", "labelOffset": 45, "gridAlign": "all", "padding": 0}
}
}
